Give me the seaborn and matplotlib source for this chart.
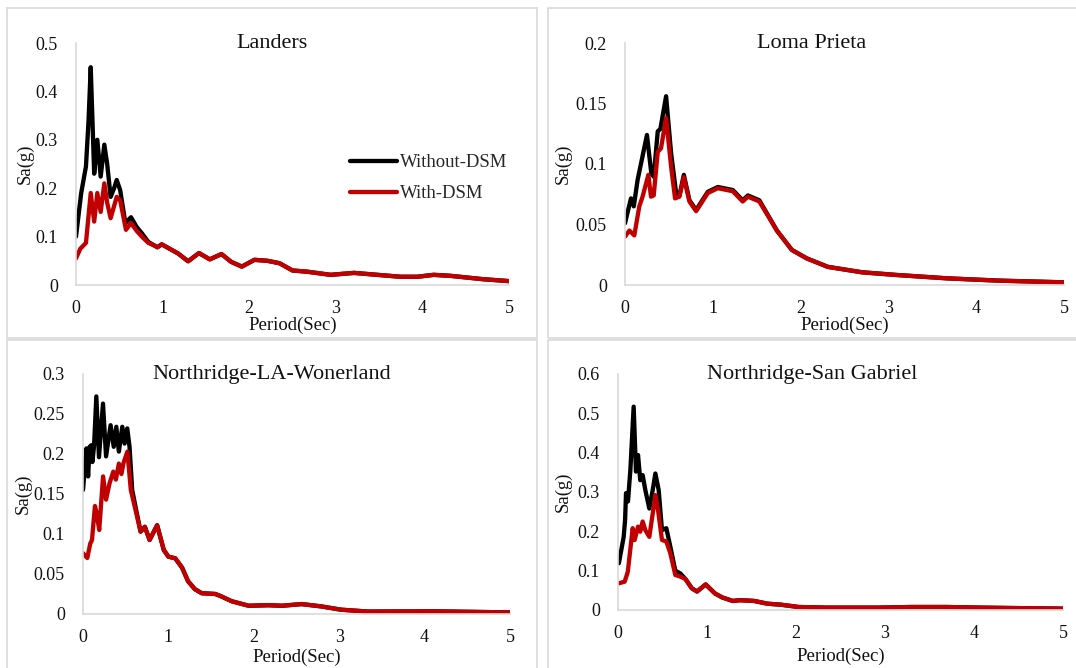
import matplotlib
matplotlib.use("Agg")
import matplotlib.pyplot as plt
from matplotlib.patches import Rectangle
from matplotlib.ticker import FuncFormatter, MultipleLocator
import pandas as pd
import seaborn as sns

# ---------------- spectral acceleration data (period in s, Sa in g) ----------------
# Landers
landers_wo_t = [0.0, 0.06, 0.115, 0.145, 0.17, 0.19, 0.21, 0.246, 0.285, 0.327, 0.36, 0.40,
                0.44, 0.47, 0.51, 0.57, 0.635, 0.70, 0.76, 0.835, 0.90, 0.94]
landers_wo_sa = [0.10, 0.19, 0.245, 0.34, 0.45, 0.34, 0.23, 0.30, 0.224, 0.29, 0.25, 0.182,
                 0.20, 0.217, 0.196, 0.128, 0.14, 0.12, 0.107, 0.089, 0.082, 0.078]
landers_w_t = [0.0, 0.05, 0.115, 0.17, 0.21, 0.246, 0.285, 0.327, 0.36, 0.40, 0.47, 0.51,
               0.577, 0.635, 0.70, 0.76, 0.835, 0.90, 0.94]
landers_w_sa = [0.055, 0.075, 0.087, 0.19, 0.131, 0.19, 0.151, 0.21, 0.17, 0.138, 0.182, 0.175,
                0.114, 0.128, 0.112, 0.100, 0.087, 0.082, 0.078]
landers_tail_t = [0.99, 1.09, 1.18, 1.295, 1.42, 1.545, 1.68, 1.79, 1.915, 2.06, 2.21, 2.35,
                  2.50, 2.67, 2.94, 3.21, 3.48, 3.75, 3.94, 4.13, 4.32, 4.70, 5.0]
landers_tail_sa = [0.084, 0.074, 0.065, 0.049, 0.066, 0.053, 0.064, 0.048, 0.038, 0.052, 0.050,
                   0.045, 0.030, 0.0275, 0.021, 0.025, 0.021, 0.017, 0.017, 0.021, 0.019, 0.012, 0.008]

# Loma Prieta
loma_wo_t = [0.0, 0.068, 0.10, 0.144, 0.19, 0.25, 0.30, 0.327, 0.373, 0.403, 0.468, 0.525,
             0.582, 0.62, 0.67, 0.734, 0.81, 0.943, 1.057, 1.228, 1.34, 1.40, 1.53]
loma_wo_sa = [0.051, 0.0716, 0.065, 0.087, 0.103, 0.124, 0.092, 0.0895, 0.127, 0.129, 0.156, 0.109,
              0.076, 0.074, 0.091, 0.070, 0.062, 0.077, 0.081, 0.0785, 0.070, 0.074, 0.070]
loma_w_t = [0.0, 0.05, 0.106, 0.163, 0.20, 0.266, 0.296, 0.327, 0.373, 0.41, 0.468, 0.525,
            0.57, 0.62, 0.67, 0.734, 0.81, 0.943, 1.057, 1.228, 1.34, 1.40, 1.53]
loma_w_sa = [0.040, 0.045, 0.041, 0.065, 0.073, 0.091, 0.073, 0.074, 0.110, 0.113, 0.138, 0.098,
             0.0716, 0.073, 0.089, 0.069, 0.061, 0.076, 0.080, 0.0775, 0.069, 0.073, 0.069]
loma_tail_t = [1.73, 1.90, 2.07, 2.31, 2.70, 3.09, 3.67, 4.26, 5.0]
loma_tail_sa = [0.045, 0.029, 0.022, 0.015, 0.0105, 0.0083, 0.0055, 0.0036, 0.0022]

# Northridge - LA Wonderland
la_wo_t = [0.0, 0.04, 0.06, 0.078, 0.097, 0.11, 0.13, 0.156, 0.187, 0.234, 0.27, 0.323, 0.36,
           0.39, 0.42, 0.46, 0.487, 0.518, 0.545, 0.576, 0.615]
la_wo_sa = [0.155, 0.207, 0.172, 0.209, 0.211, 0.19, 0.211, 0.272, 0.196, 0.263, 0.197, 0.236, 0.209,
            0.234, 0.203, 0.234, 0.213, 0.232, 0.209, 0.155, 0.134]
la_w_t = [0.0, 0.05, 0.085, 0.105, 0.14, 0.16, 0.19, 0.235, 0.27, 0.31, 0.355, 0.385, 0.42,
          0.45, 0.475, 0.52, 0.56, 0.615]
la_w_sa = [0.076, 0.070, 0.088, 0.0925, 0.135, 0.126, 0.105, 0.172, 0.143, 0.163, 0.178, 0.168, 0.188,
           0.175, 0.189, 0.203, 0.155, 0.130]
la_tail_t = [0.674, 0.724, 0.78, 0.868, 0.946, 1.0, 1.08, 1.16, 1.23, 1.31, 1.39, 1.55, 1.62,
             1.74, 1.94, 2.17, 2.33, 2.56, 2.79, 3.02, 3.34, 4.11, 5.0]
la_tail_sa = [0.103, 0.109, 0.0925, 0.111, 0.080, 0.0717, 0.0696, 0.058, 0.041, 0.031, 0.026, 0.025,
              0.022, 0.016, 0.0103, 0.011, 0.0103, 0.0124, 0.0095, 0.0054, 0.003, 0.0033, 0.002]

# Northridge - San Gabriel
sg_wo_t = [0.01, 0.064, 0.08, 0.09, 0.112, 0.139, 0.176, 0.202, 0.225, 0.25, 0.277, 0.307, 0.352,
           0.39, 0.42, 0.457, 0.494, 0.543, 0.588, 0.644, 0.70]
sg_wo_sa = [0.119, 0.186, 0.23, 0.297, 0.276, 0.356, 0.517, 0.352, 0.394, 0.33, 0.343, 0.305, 0.258,
            0.305, 0.347, 0.305, 0.203, 0.208, 0.161, 0.10, 0.093]
sg_w_t = [0.01, 0.075, 0.11, 0.165, 0.187, 0.225, 0.25, 0.277, 0.307, 0.352, 0.42, 0.45, 0.494,
          0.543, 0.588, 0.644, 0.70]
sg_w_sa = [0.068, 0.072, 0.097, 0.208, 0.178, 0.212, 0.199, 0.225, 0.203, 0.186, 0.292, 0.254, 0.178,
           0.174, 0.144, 0.089, 0.085]
sg_tail_t = [0.757, 0.83, 0.888, 0.985, 1.09, 1.17, 1.29, 1.37, 1.53, 1.68, 1.83, 2.03, 2.34,
             2.92, 3.30, 3.69, 4.07, 5.0]
sg_tail_sa = [0.079, 0.055, 0.047, 0.065, 0.042, 0.032, 0.023, 0.025, 0.023, 0.016, 0.0135, 0.0076,
              0.006, 0.006, 0.0076, 0.0076, 0.006, 0.0034]

titles = ["Landers", "Loma Prieta", "Northridge-LA-Wonerland", "Northridge-San Gabriel"]
series_names = ["Without-DSM", "With-DSM"]
y_max = [0.5, 0.2, 0.3, 0.6]
y_step = [0.1, 0.05, 0.05, 0.1]


def frame(t, sa, tail_t, tail_sa, name):
    return pd.DataFrame({"Period": list(t) + list(tail_t),
                         "Sa": list(sa) + list(tail_sa),
                         "Series": name})


records = [
    (frame(landers_wo_t, landers_wo_sa, landers_tail_t, landers_tail_sa, series_names[0]),
     frame(landers_w_t, landers_w_sa, landers_tail_t, landers_tail_sa, series_names[1])),
    (frame(loma_wo_t, loma_wo_sa, loma_tail_t, loma_tail_sa, series_names[0]),
     frame(loma_w_t, loma_w_sa, loma_tail_t, loma_tail_sa, series_names[1])),
    (frame(la_wo_t, la_wo_sa, la_tail_t, la_tail_sa, series_names[0]),
     frame(la_w_t, la_w_sa, la_tail_t, la_tail_sa, series_names[1])),
    (frame(sg_wo_t, sg_wo_sa, sg_tail_t, sg_tail_sa, series_names[0]),
     frame(sg_w_t, sg_w_sa, sg_tail_t, sg_tail_sa, series_names[1])),
]

# ---------------- styling ----------------
sns.set_theme(style="white")
plt.rcParams["font.family"] = ["Liberation Serif", "DejaVu Serif"]

W, H = 1076, 668
fig = plt.figure(figsize=(W / 100, H / 100), dpi=100)
fig.patch.set_facecolor("white")

colors = {"Without-DSM": "#000000", "With-DSM": "#C00000"}
grey = "#d9d9d9"

# chart boxes (pixel coordinates: x0, y0, x1, y1)
boxes = [(7, 8, 537, 338), (548, 8, 1080, 338), (7, 340, 537, 672), (548, 340, 1080, 672)]
# plot areas (pixel coordinates: left, right, top, bottom)
areas = [(76, 509, 43, 285), (625, 1064, 43, 285), (83, 510, 374, 614), (618, 1063, 374, 610)]
ylabel_x = [25, 563, 23, 563]
xlabel_dy = [40, 40, 43, 46]
title_base = [48, 48, 379, 379]


def fx(x):
    return x / W


def fy(y):
    return 1 - y / H


for i in range(4):
    bx0, by0, bx1, by1 = boxes[i]
    fig.add_artist(Rectangle((fx(bx0), fy(by1)), fx(bx1 - bx0), (by1 - by0) / H,
                             transform=fig.transFigure, fill=False, edgecolor=grey, lw=1.2))

    l, r, t, b = areas[i]
    ax = fig.add_axes([fx(l), fy(b), fx(r - l), (b - t) / H])
    df_wo, df_w = records[i]
    sns.lineplot(data=df_wo, x="Period", y="Sa", ax=ax, color=colors["Without-DSM"],
                 linewidth=3.1, label="Without-DSM", estimator=None, sort=False)
    sns.lineplot(data=df_w, x="Period", y="Sa", ax=ax, color=colors["With-DSM"],
                 linewidth=3.1, label="With-DSM", estimator=None, sort=False)
    for ln in ax.get_lines():
        ln.set_solid_joinstyle("round")
        ln.set_solid_capstyle("round")

    ax.set_xlim(0, 5)
    ax.set_ylim(0, y_max[i])
    ax.xaxis.set_major_locator(MultipleLocator(1))
    ax.yaxis.set_major_locator(MultipleLocator(y_step[i]))
    ax.yaxis.set_major_formatter(FuncFormatter(lambda v, p: f"{v:g}"))
    ax.tick_params(axis="both", length=0, labelsize=13, colors="#111111")
    ax.tick_params(axis="x", pad=11)
    ax.tick_params(axis="y", pad=13)
    ax.set_xlabel("")
    ax.set_ylabel("")
    for side in ("top", "right"):
        ax.spines[side].set_visible(False)
    for side in ("left", "bottom"):
        ax.spines[side].set_color(grey)
        ax.spines[side].set_linewidth(1.2)
    ax.set_facecolor("none")

    if i == 0:
        ax.legend(loc="upper left", bbox_to_anchor=(fx(350), fy(154)),
                  bbox_transform=fig.transFigure, frameon=False, fontsize=13.5,
                  handlelength=2.5, handletextpad=0.15, borderpad=0, borderaxespad=0,
                  labelspacing=0.75)
    else:
        ax.get_legend().remove()

    # chart title, centred on the chart box
    fig.text(fx((bx0 + bx1 if i % 2 == 0 else bx0 + 1076) / 2), fy(title_base[i]), titles[i],
             ha="center", va="baseline", fontsize=16, color="#111111")
    # axis titles
    fig.text(fx(ylabel_x[i]), fy((t + b) / 2), "Sa(g)", rotation=90,
             ha="center", va="center", fontsize=13.5, color="#111111")
    fig.text(fx((l + r) / 2), fy(b + xlabel_dy[i]), "Period(Sec)",
             ha="center", va="center", fontsize=13.5, color="#111111")

fig.savefig("out.png", dpi=100, facecolor="white")
